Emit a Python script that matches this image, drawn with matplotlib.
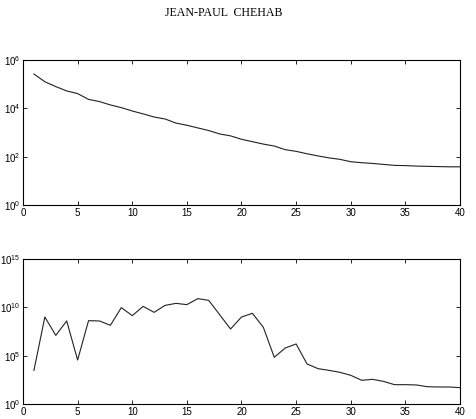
import numpy as np
import matplotlib
matplotlib.use("Agg")
import matplotlib.pyplot as plt
from matplotlib.ticker import FixedLocator, NullLocator

plt.rcParams['font.family'] = ['Liberation Sans', 'DejaVu Sans']
plt.rcParams['mathtext.fontset'] = 'custom'
plt.rcParams['mathtext.rm'] = 'Liberation Sans'
plt.rcParams['mathtext.it'] = 'Liberation Sans'

# iteration index
n = np.arange(1, 41)

# top panel, log10 of values
top_log = [5.42, 5.10, 4.90, 4.72, 4.61, 4.37, 4.28, 4.14, 4.03, 3.89,
           3.77, 3.64, 3.56, 3.39, 3.30, 3.19, 3.08, 2.94, 2.86, 2.72,
           2.62, 2.52, 2.44, 2.29, 2.22, 2.12, 2.03, 1.95, 1.89, 1.79,
           1.75, 1.72, 1.68, 1.64, 1.63, 1.61, 1.60, 1.59, 1.58, 1.58]

# bottom panel, log10 of values
bot_log = [3.48, 9.00, 7.10, 8.59, 4.55, 8.62, 8.59, 8.14, 9.97, 9.14,
           10.10, 9.48, 10.20, 10.41, 10.28, 10.90, 10.72, 9.24, 7.76, 9.00,
           9.38, 7.93, 4.83, 5.79, 6.21, 4.14, 3.66, 3.48, 3.28, 2.97,
           2.45, 2.55, 2.34, 2.00, 2.00, 1.97, 1.79, 1.76, 1.76, 1.69]

top_yticks = [1e0, 1e2, 1e4, 1e6]
bot_yticks = [1e0, 1e5, 1e10, 1e15]
xticks = [0, 5, 10, 15, 20, 25, 30, 35, 40]

fig = plt.figure(figsize=(4.77, 4.19), dpi=100)
ax1 = fig.add_axes([23 / 477, 1 - 205 / 419, 437 / 477, 145 / 419])
ax2 = fig.add_axes([23 / 477, 1 - 404 / 419, 437 / 477, 145 / 419])

panels = [(ax1, top_log, top_yticks), (ax2, bot_log, bot_yticks)]
for ax, vals, yt in panels:
    ax.semilogy(n, 10 ** np.array(vals), color='#222222', lw=0.8)
    ax.set_xlim(0, 40)
    ax.set_ylim(yt[0], yt[-1])
    ax.yaxis.set_major_locator(FixedLocator(yt))
    ax.yaxis.set_minor_locator(NullLocator())
    ax.set_xticks(xticks)
    ax.tick_params(direction='in', top=True, right=True, length=3,
                   width=0.6, labelsize=7, pad=2)
    for s in ax.spines.values():
        s.set_linewidth(0.8)

fig.text(224 / 477, 1 - 13 / 419, 'JEAN-PAUL  CHEHAB', ha='center', va='center',
         fontsize=8.6, family='Liberation Serif')

fig.savefig('out.png', dpi=100)
